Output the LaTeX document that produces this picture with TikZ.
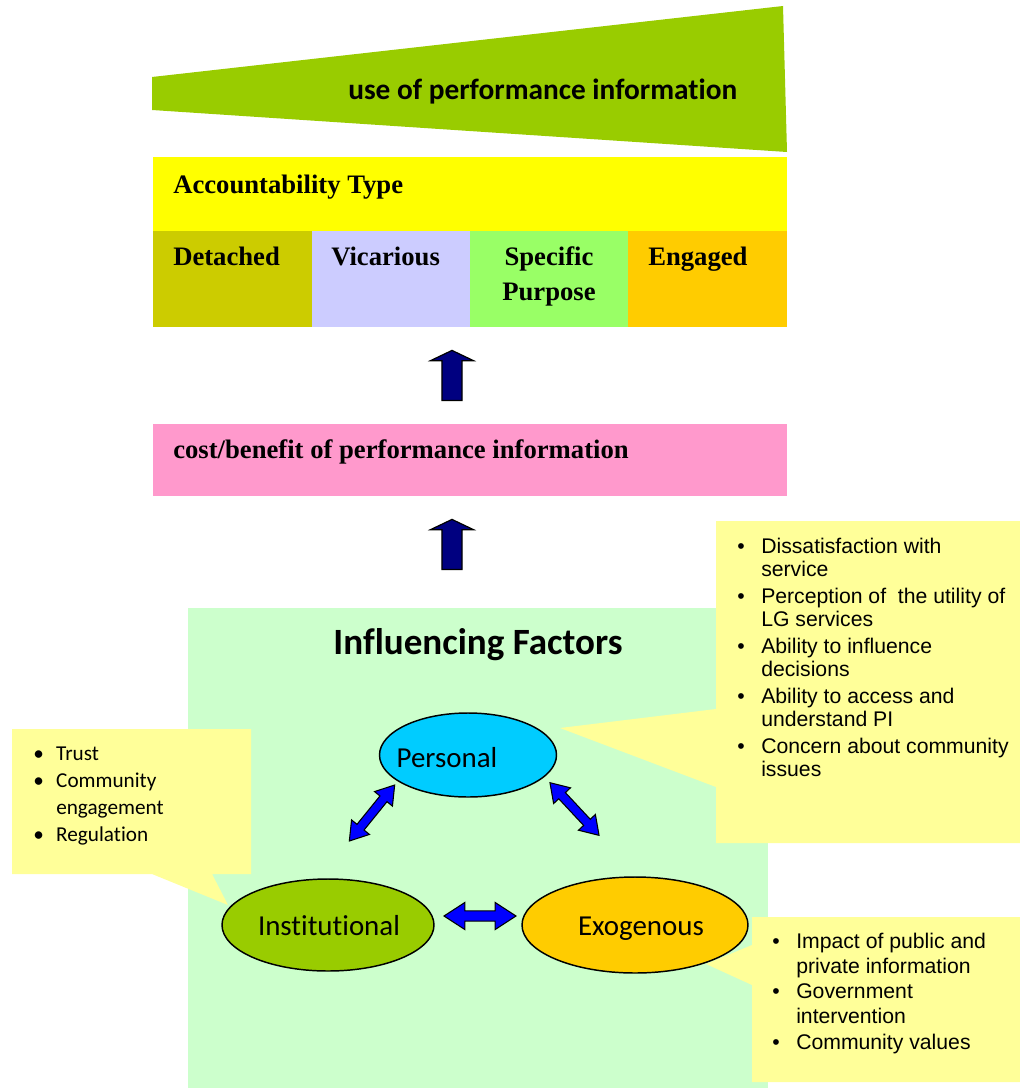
\documentclass[tikz,border=0pt]{standalone}
\usepackage{fontspec}
\setmainfont{Liberation Serif}
\newfontfamily\calib{Carlito}[Ligatures=NoCommon]
\newfontfamily\arialf{Liberation Sans}
\usetikzlibrary{shapes.geometric,shapes.arrows}

\definecolor{usegreen}{HTML}{99CC00}
\definecolor{acctyellow}{HTML}{FFFF00}
\definecolor{detachedc}{HTML}{CCCC00}
\definecolor{vicariousc}{HTML}{CCCCFF}
\definecolor{specificc}{HTML}{99FF66}
\definecolor{engagedc}{HTML}{FFCC00}
\definecolor{costpink}{HTML}{FF99CC}
\definecolor{navyarrow}{HTML}{000080}
\definecolor{factorgreen}{HTML}{CCFFCC}
\definecolor{noteyellow}{HTML}{FFFF99}
\definecolor{personalc}{HTML}{00CCFF}
\definecolor{institc}{HTML}{99CC00}
\definecolor{exogc}{HTML}{FFCC00}
\definecolor{linkblue}{HTML}{0000FF}

\tikzset{
  boxlabel/.style={anchor=base west, inner sep=0pt, font=\bfseries\fontsize{20}{26.25}\selectfont},
  uparrow/.style={shape=single arrow, rotate=90, draw=black, line width=0.9pt, fill=navyarrow,
    minimum height=37.5pt, minimum width=0pt, inner xsep=0pt, inner ysep=7.1pt,
    single arrow head extend=8.6pt, single arrow tip angle=129},
  dblarrow/.style={shape=double arrow, draw=black, line width=0.8pt, fill=linkblue,
    minimum height=54pt, minimum width=0pt, inner xsep=0pt, inner ysep=3pt,
    double arrow head extend=5.25pt, double arrow tip angle=66},
  blob/.style={ellipse, draw=black, line width=1.1pt, inner sep=0pt},
  blobtext/.style={anchor=base, inner sep=0pt, font=\calib\fontsize{21.7}{26}\selectfont},
  notelist/.style={anchor=base west, inner sep=0pt}
}

\begin{document}
\begin{tikzpicture}[x=0.75pt,y=-0.75pt]
\useasboundingbox (0,0) rectangle (1020,1088);

% widening wedge on top
\fill[usegreen] (152,77) -- (783,6) -- (787,152) -- (152,110) -- cycle;
\node[anchor=base west, inner sep=0pt, font=\calib\bfseries\fontsize{22}{26}\selectfont]
  (usePI) at (348,99) {use of performance information};

% accountability types
\fill[acctyellow] (153,157) rectangle (787,231);
\node[boxlabel] (acct) at (173,193) {Accountability Type};
\fill[detachedc] (153,231) rectangle (312,327);
\fill[vicariousc] (312,231) rectangle (470,327);
\fill[specificc] (470,231) rectangle (628,327);
\fill[engagedc] (628,231) rectangle (787,327);
\node[boxlabel] (detached) at (173,265) {Detached};
\node[boxlabel] (vicarious) at (331,265) {Vicarious};
\node[boxlabel, anchor=center, align=center] (specific) at (549,276.5) {Specific\\Purpose};
\node[boxlabel] (engaged) at (648,265) {Engaged};

\node[uparrow, anchor=tail] (upperArrow) at (452,401) {};

% cost/benefit bar
\fill[costpink] (153,424) rectangle (787,496);
\node[boxlabel] (cost) at (173,458) {cost/benefit of performance information};

\node[uparrow, anchor=tail] (lowerArrow) at (452,570) {};

% influencing factors panel
\fill[factorgreen] (188,608) rectangle (768,1088);
\node[anchor=base, inner sep=0pt, font=\calib\bfseries\fontsize{27.8}{33}\selectfont]
  (factors) at (478,654) {Influencing Factors};

% call-outs
\fill[noteyellow] (12,729) -- (251,729) -- (251,874) -- (212,874) -- (228,905)
  -- (152,874) -- (12,874) -- cycle;
\fill[noteyellow] (716,521) -- (1020,521) -- (1020,843) -- (716,843) -- (716,787)
  -- (560,728) -- (716,709) -- cycle;
\fill[noteyellow] (752,917) -- (1020,917) -- (1020,1082) -- (752,1082) -- (752,985)
  -- (706,964) -- (752,945) -- cycle;

\node[notelist, font=\calib\fontsize{15.9}{20.25}\selectfont] (instList) at (33,760) {%
  \begin{tabular}[t]{@{}p{17.25pt}@{}l@{}}
  \textbullet & Trust\\
  \textbullet & Community\\
              & engagement\\
  \textbullet & Regulation
  \end{tabular}};
\node[notelist, font=\arialf\fontsize{15.9}{17.25}\selectfont] (persList) at (737,553.5) {%
  \begin{tabular}[t]{@{}p{18pt}@{}l@{}}
  \textbullet & Dissatisfaction with\\
              & service\\[3pt]
  \textbullet & Perception of \ the utility of\\
              & LG services\\[3pt]
  \textbullet & Ability to influence\\
              & decisions\\[3pt]
  \textbullet & Ability to access and\\
              & understand PI\\[3pt]
  \textbullet & Concern about community\\
              & issues
  \end{tabular}};
\node[notelist, font=\arialf\fontsize{15.9}{18.4}\selectfont] (exogList) at (772,948.5) {%
  \begin{tabular}[t]{@{}p{18pt}@{}l@{}}
  \textbullet & Impact of public and\\
              & private information\\[1pt]
  \textbullet & Government\\
              & intervention\\[1pt]
  \textbullet & Community values
  \end{tabular}};

% the three factors
\node[blob, fill=personalc, minimum width=132.75pt, minimum height=63pt] (personal) at (468,755) {};
\node[blob, fill=institc, minimum width=159pt, minimum height=69pt] (institutional) at (328,925) {};
\node[blob, fill=exogc, minimum width=169.5pt, minimum height=72pt] (exogenous) at (635,925) {};
\node[blobtext] (personalTxt) at (447,767) {Personal};
\node[blobtext] (institTxt) at (329,935) {Institutional};
\node[blobtext] (exogTxt) at (641,935) {Exogenous};

% links between them
\node[dblarrow, rotate=51] (persInst) at (372,813) {};
\node[dblarrow, rotate=-47] (persExog) at (574.5,809) {};
\node[dblarrow, inner ysep=3.4pt, double arrow head extend=6.4pt] (instExog) at (480,916) {};
\end{tikzpicture}
\end{document}
